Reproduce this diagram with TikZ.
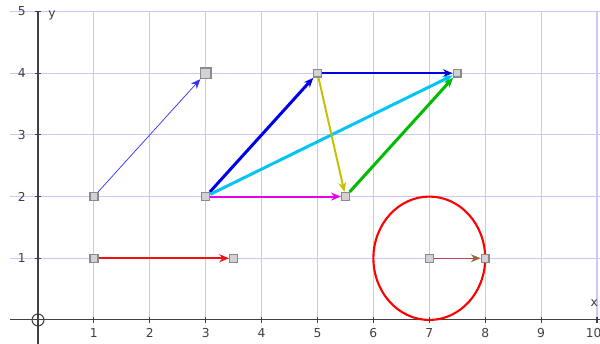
\documentclass[tikz,border=0pt]{standalone}
\usepackage{fontspec}
\setmainfont{DejaVu Sans}
\usetikzlibrary{arrows.meta}
\definecolor{gdLine}{HTML}{C8C8FF}
\definecolor{axLine}{HTML}{404040}
\definecolor{vcBlue}{HTML}{0000E8}
\definecolor{vcThin}{HTML}{3030FF}
\definecolor{vcCyan}{HTML}{00C4F4}
\definecolor{vcOlive}{HTML}{C4C000}
\definecolor{vcMag}{HTML}{E800E8}
\definecolor{vcGreen}{HTML}{00BC00}
\definecolor{vcRed}{HTML}{F01010}
\definecolor{vcRose}{HTML}{C04060}
\definecolor{ptEdge}{HTML}{8A8A8A}

\begin{document}
\begin{tikzpicture}[x=1.118cm,y=1.234cm,font=\fontsize{7}{8}\selectfont,
      pt/.style={draw=ptEdge,fill=gray!35,rectangle,line width=0.8pt,
                 minimum size=4.5pt,inner sep=0pt},
      vec/.style={-{Stealth[length=5.5pt,width=4.5pt]},line width=#1},
      tk/.style={text=axLine,inner sep=1pt}]
    \useasboundingbox (-0.680,-0.389) rectangle (10.054,5.186);

    % grid
    \foreach \i in {1,...,10}
      \draw[gdLine,line width=0.6pt] (\i,0) -- (\i,5);
    \foreach \j in {1,...,5}
      \draw[gdLine,line width=0.6pt] (-0.5,\j) -- (10.054,\j);

    % axes
    \draw[axLine,line width=0.6pt] (-0.5,0) -- (10.054,0);
    \draw[axLine,line width=0.6pt] (0,5) -- (0,-0.389);
    \foreach \i in {1,...,10}
      \draw[axLine,line width=0.6pt] (\i,-0.05) -- (\i,0.05);
    \foreach \i in {1,...,9}
      \node[tk] (xl\i) at (\i,-0.21) {\i};
    \node[tk] (xl10) at (9.94,-0.21) {10};
    \foreach \j in {1,...,5} {
      \draw[axLine,line width=0.6pt] (-0.05,\j) -- (0.05,\j);
      \node[tk] (yl\j) at (-0.29,\j) {\j};
    }
    \node[tk] (xn) at (9.95,0.28) {x};
    \node[tk] (yn) at (0.25,4.93) {y};
    \draw[axLine,line width=0.6pt] (0,0) circle (3.4pt);

    % circle around (7,1)
    \draw[red,line width=1.2pt] (7,1) ellipse (1 and 1);

    % points
    \node[pt] (a) at (1,2) {};
    \node[pt,minimum size=6pt] (b) at (3,4) {};
    \node[pt] (c) at (3,2) {};
    \node[pt] (d) at (5,4) {};
    \node[pt] (e) at (7.5,4) {};
    \node[pt] (f) at (5.5,2) {};
    \node[pt] (g) at (1,1) {};
    \node[pt] (h) at (3.5,1) {};
    \node[pt] (m) at (7,1) {};
    \node[pt] (n) at (8,1) {};

    % vectors
    \draw[vec=0.4pt,vcThin] (a) -- (b);
    \draw[vec=1.7pt,vcBlue] (c) -- (d);
    \draw[vec=1.1pt,vcBlue] (d) -- (e);
    \draw[vec=1.7pt,vcCyan] (c) -- (e);
    \draw[vec=1.1pt,vcOlive] (d) -- (f);
    \draw[vec=1.1pt,vcMag] (c) -- (f);
    \draw[vec=1.7pt,vcGreen] (f) -- (e);
    \draw[vec=1.1pt,vcRed] (g) -- (h);
    \draw[vcRose,line width=0.8pt,-{Stealth[length=5.5pt,width=4.5pt,color=brown!80!black]}] (m) -- (n);
  \end{tikzpicture}
\end{document}
